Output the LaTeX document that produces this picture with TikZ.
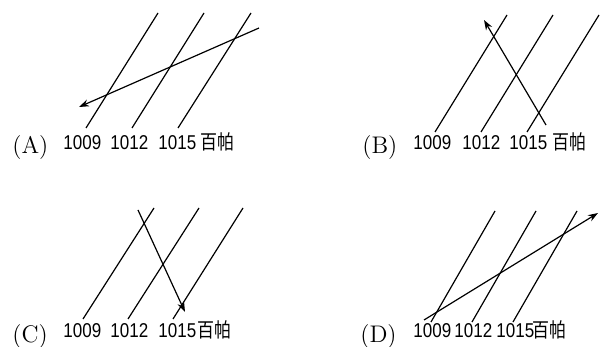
\documentclass[tikz,border=0pt]{standalone}
\usepackage{fontspec}
\newfontfamily\numfont[FakeStretch=0.85]{Liberation Sans}
\newfontfamily\cjk[FakeStretch=0.85]{Noto Sans CJK SC}
\usetikzlibrary{arrows.meta}

\begin{document}
\begin{tikzpicture}[x=0.5pt, y=-0.5pt,
  isobar/.style={line width=0.6pt},
  wind/.style={line width=0.6pt, -{Stealth[length=5pt, width=3.5pt]}},
  lbl/.style={anchor=base west, inner sep=0pt, font=\numfont\fontsize{10}{12}\selectfont},
  opt/.style={anchor=base west, inner sep=0pt, font=\fontsize{12}{14}\selectfont}]

\useasboundingbox (0, 0) rectangle (600, 347);

% (A)
\draw [isobar] (86, 128) -- (158, 13);
\draw [isobar] (132, 128) -- (204, 13);
\draw [isobar] (178, 128) -- (251, 13);
\draw [wind] (259, 28) -- (79, 107);
\node [opt] (optA) at (12, 154) {(A)};
\node [lbl] (a1) at (63, 150) {1009};
\node [lbl] (a2) at (110, 150) {1012};
\node [lbl] (a3) at (158, 150) {1015};
\node [lbl] (a4) at (200, 150) {\cjk 百帕};

% (B)
\draw [isobar] (435, 132) -- (507, 15);
\draw [isobar] (481, 132) -- (553, 15);
\draw [isobar] (527, 132) -- (599, 15);
\draw [wind] (546, 125) -- (484, 20);
\node [opt] (optB) at (362, 154) {(B)};
\node [lbl] (b1) at (413, 150) {1009};
\node [lbl] (b2) at (462, 150) {1012};
\node [lbl] (b3) at (509, 150) {1015};
\node [lbl] (b4) at (552, 150) {\cjk 百帕};

% (C)
\draw [isobar] (83, 319) -- (154, 208);
\draw [isobar] (128, 319) -- (199, 208);
\draw [isobar] (173, 319) -- (243, 208);
\draw [wind] (138, 210) -- (185, 312);
\node [opt] (optC) at (12, 343) {(C)};
\node [lbl] (c1) at (63, 338) {1009};
\node [lbl] (c2) at (110, 338) {1012};
\node [lbl] (c3) at (158, 338) {1015};
\node [lbl] (c4) at (197, 338) {\cjk 百帕};

% (D)
\draw [isobar] (431, 322) -- (495, 211);
\draw [isobar] (472, 322) -- (536, 211);
\draw [isobar] (513, 322) -- (577, 211);
\draw [wind] (424, 320) -- (598, 213);
\node [opt] (optD) at (360, 343) {(D)};
\node [lbl] (d1) at (413, 338) {1009};
\node [lbl] (d2) at (454, 338) {1012};
\node [lbl] (d3) at (496, 338) {1015};
\node [lbl] (d4) at (532, 338) {\cjk 百帕};

\end{tikzpicture}
\end{document}
